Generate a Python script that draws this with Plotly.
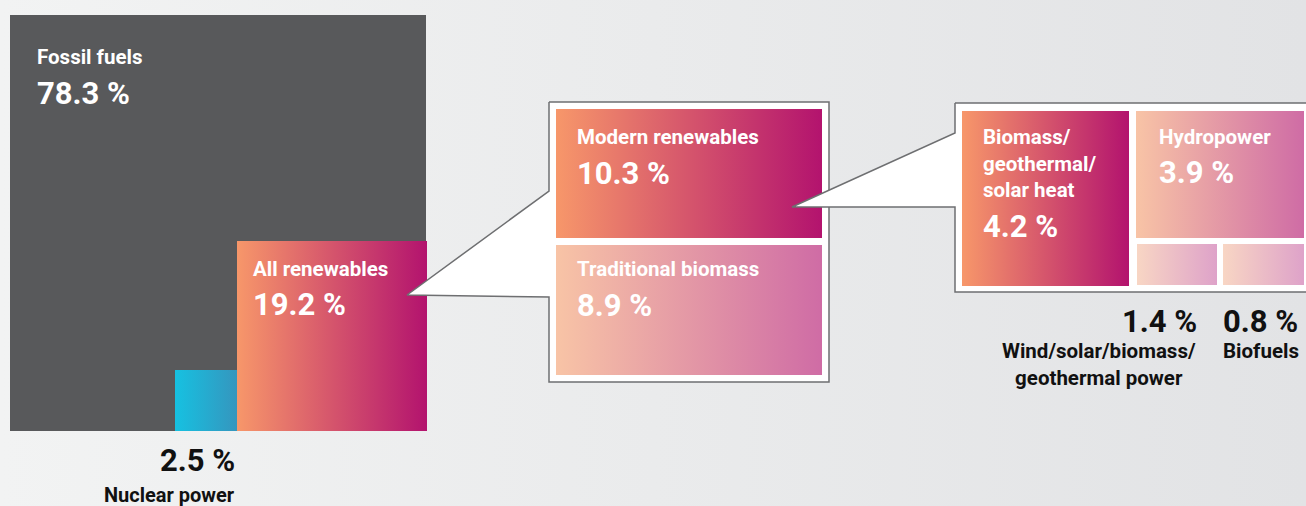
import plotly.graph_objects as go

# ---------------- data ----------------
top_categories = ["Fossil fuels", "All renewables", "Nuclear power"]
top_shares = [78.3, 19.2, 2.5]

renew_categories = ["Modern renewables", "Traditional biomass"]
renew_shares = [10.3, 8.9]

modern_categories = ["Biomass/geothermal/solar heat", "Hydropower",
                     "Wind/solar/biomass/geothermal power", "Biofuels"]
modern_shares = [4.2, 3.9, 1.4, 0.8]
modern_labels = ["Biomass/<br>geothermal/<br>solar heat", "Hydropower",
                 "Wind/solar/biomass/<br>geothermal power", "Biofuels"]

# ---------------- layout geometry (pixels) ----------------
W, H = 1306, 506
boxes = {
    "Fossil fuels": (10, 15, 426, 431),
    "All renewables": (237, 241, 427, 431),
    "Nuclear power": (175, 370, 237, 431),
    "Modern renewables": (556, 109, 822, 238),
    "Traditional biomass": (556, 245, 822, 375),
    "Biomass/geothermal/solar heat": (962, 111, 1129, 286),
    "Hydropower": (1136, 111, 1304, 238),
    "Wind/solar/biomass/geothermal power": (1137, 244, 1217, 285),
    "Biofuels": (1223, 244, 1304, 285),
}
callouts = [
    [(549, 102), (829, 102), (829, 382), (549, 382), (549, 297), (407, 295), (549, 191), (549, 102)],
    [(955, 103), (1312, 103), (1312, 292), (955, 292), (955, 207), (792, 207), (955, 133), (955, 103)],
]

DARK = ["#f7976a", "#b3136e"]
LIGHT = ["#f8c4a6", "#cf6ca5"]
PALE = ["#f8d6c4", "#dea2c9"]
styles = {
    "Fossil fuels": ["#58595b", "#58595b"],
    "All renewables": DARK,
    "Nuclear power": ["#16c1e1", "#3596be"],
    "Modern renewables": DARK,
    "Traditional biomass": LIGHT,
    "Biomass/geothermal/solar heat": DARK,
    "Hydropower": LIGHT,
    "Wind/solar/biomass/geothermal power": PALE,
    "Biofuels": PALE,
}

FONT = "Roboto"
fig = go.Figure()


def grad_rect(x0, y0, x1, y1, c0, c1):
    fig.add_trace(go.Scatter(
        x=[x0, x1, x1, x0, x0], y=[y0, y0, y1, y1, y0], mode="lines",
        line=dict(width=0), fill="toself",
        fillgradient=dict(type="horizontal", colorscale=[[0, c0], [1, c1]]),
        hoverinfo="skip", showlegend=False))


def callout(poly):
    fig.add_trace(go.Scatter(
        x=[p[0] for p in poly], y=[p[1] for p in poly], mode="lines",
        line=dict(color="#6e6f71", width=1.5), fill="toself", fillcolor="#ffffff",
        hoverinfo="skip", showlegend=False))


def boxes_for(names):
    for name in names:
        x0, y0, x1, y1 = boxes[name]
        c0, c1 = styles[name]
        grad_rect(x0, y0, x1, y1, c0, c1)


# background
grad_rect(0, 0, W, H, "#f2f3f3", "#e2e3e5")

boxes_for(top_categories)
callout(callouts[0])
boxes_for(renew_categories)
callout(callouts[1])
boxes_for(modern_categories)


def txt(text, x, baseline, size, color="#ffffff", anchor="left", lines=1, lh=27):
    y = baseline + (lines - 1) * lh / 2 - 0.345 * size
    fig.add_annotation(x=x, y=y, xref="x", yref="y", text="<b>" + text + "</b>",
                       showarrow=False, xanchor=anchor, yanchor="middle", align=anchor,
                       font=dict(family=FONT, size=size, color=color))


def pct(v):
    return f"{v:.1f} %"


LBL, VAL = 20.5, 31
DARKTXT = "#111111"
# main square labels
txt(top_categories[0], 35, 64, LBL)
txt(pct(top_shares[0]), 35, 104, VAL)
txt(top_categories[1], 251, 276, LBL)
txt(pct(top_shares[1]), 251, 315, VAL)
txt(pct(top_shares[2]), 237, 471, VAL, color=DARKTXT, anchor="right")
txt(top_categories[2], 237, 502, 20, color=DARKTXT, anchor="right")

# renewables split
txt(renew_categories[0], 575, 144, LBL)
txt(pct(renew_shares[0]), 575, 184, VAL)
txt(renew_categories[1], 575, 276, LBL)
txt(pct(renew_shares[1]), 575, 316, VAL)

# modern renewables split
txt(modern_labels[0], 981, 144, LBL, lines=3)
txt(pct(modern_shares[0]), 981, 237, VAL)
txt(modern_labels[1], 1157, 144, LBL)
txt(pct(modern_shares[1]), 1157, 183, VAL)
txt(pct(modern_shares[2]), 1199, 332, VAL, color=DARKTXT, anchor="right")
txt(pct(modern_shares[3]), 1221, 332, VAL, color=DARKTXT, anchor="left")
txt(modern_labels[2], 1099, 358, LBL, color=DARKTXT, anchor="center", lines=2)
txt(modern_labels[3], 1221, 358, LBL, color=DARKTXT, anchor="left")

fig.update_layout(
    width=W, height=H, margin=dict(l=0, r=0, t=0, b=0),
    paper_bgcolor="#eeeff0", plot_bgcolor="#eeeff0",
    xaxis=dict(range=[0, W], visible=False, fixedrange=True),
    yaxis=dict(range=[H, 0], visible=False, fixedrange=True),
    showlegend=False,
)
fig.write_html("out.html", config={"displayModeBar": False},
               post_script="document.body.style.margin='0';")
